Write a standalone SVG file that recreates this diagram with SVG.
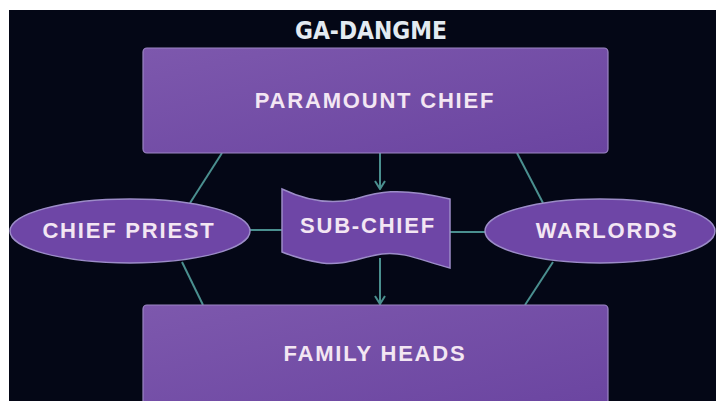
<svg xmlns="http://www.w3.org/2000/svg" width="716" height="401" viewBox="0 0 716 401">
<defs>
<linearGradient id="boxGrad" x1="0" y1="0" x2="1" y2="1">
<stop offset="0" stop-color="#7d58ad"/>
<stop offset="1" stop-color="#6a44a0"/>
</linearGradient>
<marker id="arr" markerWidth="12" markerHeight="10" refX="6" refY="8" orient="auto-start-reverse" markerUnits="userSpaceOnUse" viewBox="0 0 12 10">
<path d="M1,1 L6,8 L11,1" fill="none" stroke="#4a8f8f" stroke-width="2"/>
</marker>
<marker id="arrDown" markerWidth="12" markerHeight="10" refX="6" refY="9" orient="0" markerUnits="userSpaceOnUse" viewBox="0 0 12 10">
<path d="M1,1 L6,9 L11,1" fill="none" stroke="#4a8f8f" stroke-width="2"/>
</marker>
</defs>
<style>
.box{fill:url(#boxGrad);stroke:#9c86c4;stroke-width:1.2}
.shape{fill:#6e46a6;stroke:#9c8cc8;stroke-width:1.5}
.lbl{font-family:"Liberation Sans",Arial,sans-serif;font-weight:bold;font-size:22px;fill:#f3e6f3;text-anchor:middle;letter-spacing:1.8px}
.conn{stroke:#4a8f8f;stroke-width:2;fill:none}
.title{font-family:"DejaVu Sans Condensed","DejaVu Sans",sans-serif;font-weight:bold;font-size:25px;fill:#e3eaf1;text-anchor:middle}
</style>
<rect x="0" y="0" width="716" height="401" fill="#ffffff"/>
<rect x="9" y="10" width="707" height="391" fill="#040716"/>
<text class="title" x="371" y="39" textLength="152" lengthAdjust="spacingAndGlyphs">GA-DANGME</text>
<g id="connectors">
<line class="conn" x1="222" y1="153" x2="190" y2="203"/>
<line class="conn" x1="182" y1="262" x2="203" y2="305"/>
<line class="conn" x1="517" y1="153" x2="543" y2="203"/>
<line class="conn" x1="553" y1="262" x2="525" y2="305"/>
<line class="conn" x1="250" y1="230" x2="283" y2="230"/>
<line class="conn" x1="450" y1="232" x2="486" y2="232"/>
<line class="conn" x1="380" y1="153" x2="380" y2="189" marker-end="url(#arrDown)"/>
<line class="conn" x1="380" y1="258" x2="380" y2="304" marker-end="url(#arrDown)"/>
</g>
<g id="paramount-chief">
<rect class="box" x="143" y="48" width="465" height="105" rx="4"/>
<text class="lbl" x="375" y="108">PARAMOUNT CHIEF</text>
</g>
<g id="chief-priest">
<ellipse class="shape" cx="130" cy="231" rx="120" ry="32"/>
<text class="lbl" x="129" y="238">CHIEF PRIEST</text>
</g>
<g id="sub-chief">
<path class="shape" d="M282,189 C305,200 330,205 355,199 C375,193 395,186 450,199 L450,268 C425,262 405,251 382,254 C360,257 345,266 322,263 C302,260 292,256 282,252 Z"/>
<text class="lbl" x="368" y="233">SUB-CHIEF</text>
</g>
<g id="warlords">
<ellipse class="shape" cx="600" cy="231" rx="115" ry="32"/>
<text class="lbl" x="607" y="238">WARLORDS</text>
</g>
<g id="family-heads">
<rect class="box" x="143" y="305" width="465" height="110" rx="4"/>
<text class="lbl" x="375" y="361">FAMILY HEADS</text>
</g>
</svg>
